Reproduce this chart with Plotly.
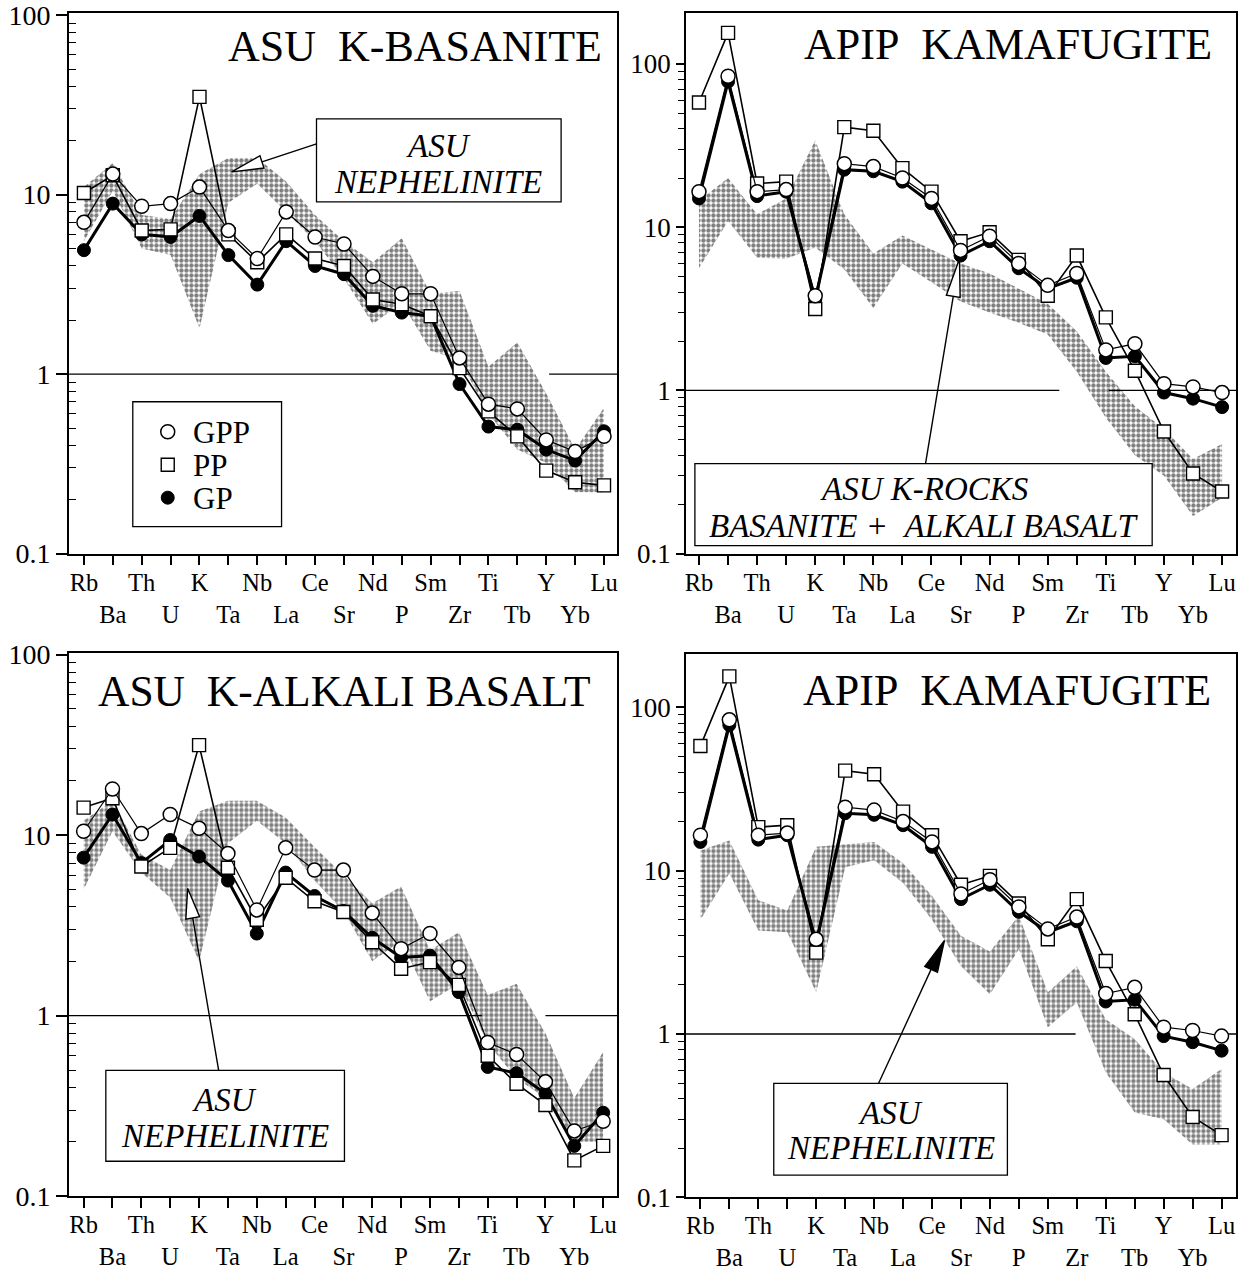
import math
import plotly.graph_objects as go

W, H = 1260, 1280

elements = ["Rb", "Ba", "Th", "U", "K", "Ta", "Nb", "La", "Ce", "Sr",
            "Nd", "P", "Sm", "Zr", "Ti", "Tb", "Y", "Yb", "Lu"]

# ---- ASU K-BASANITE (top left) ----
bas_gpp = [7.0, 13.0, 8.6, 8.9, 11.0, 6.3, 4.4, 8.0, 5.8, 5.3, 3.5, 2.8, 2.8, 1.23, 0.68, 0.64, 0.43, 0.37, 0.45]
bas_pp = [10.2, 12.8, 6.3, 6.4, 35.0, 6.0, 4.2, 6.0, 4.4, 4.0, 2.6, 2.45, 2.1, 1.08, 0.62, 0.45, 0.29, 0.25, 0.24]
bas_gp = [4.9, 8.9, 6.0, 5.8, 7.6, 4.6, 3.15, 5.5, 4.0, 3.6, 2.4, 2.2, 2.1, 0.88, 0.51, 0.49, 0.38, 0.33, 0.48]
bas_neph_hi = [11, 15, 7.7, 7.3, 13, 16, 16, 11.8, 7.7, 5.5, 4.2, 5.7, 2.8, 2.9, 1.1, 1.5, 0.78, 0.38, 0.65]
bas_neph_lo = [5.5, 10.5, 5.0, 4.6, 1.8, 9.0, 11.5, 8.0, 5.5, 3.4, 1.9, 2.5, 1.35, 1.2, 0.6, 0.38, 0.32, 0.22, 0.22]

# ---- ASU K-ALKALI BASALT (bottom left) ----
alk_gpp = [10.5, 18.0, 10.2, 13.0, 10.9, 7.9, 3.85, 8.5, 6.4, 6.4, 3.7, 2.35, 2.85, 1.85, 0.71, 0.61, 0.43, 0.23, 0.26]
alk_pp = [14.2, 16.0, 6.7, 8.5, 31.5, 6.6, 3.4, 5.8, 4.3, 3.75, 2.55, 1.82, 1.98, 1.48, 0.6, 0.42, 0.32, 0.158, 0.19]
alk_gp = [7.5, 13.0, 7.0, 9.4, 7.6, 5.6, 2.85, 6.2, 4.6, 3.8, 2.7, 2.1, 2.15, 1.35, 0.52, 0.48, 0.37, 0.19, 0.29]
alk_neph_hi = [12, 15.5, 7.8, 6.4, 13.5, 15.5, 15.5, 12.5, 8.6, 6.0, 4.2, 5.2, 2.3, 2.9, 1.3, 1.5, 0.8, 0.35, 0.63]
alk_neph_lo = [5.0, 10.5, 6.2, 4.5, 2.0, 9.0, 12.0, 9.0, 5.6, 3.8, 2.0, 2.6, 1.2, 1.5, 0.7, 0.45, 0.35, 0.2, 0.2]

# ---- APIP KAMAFUGITE (right panels) ----
kam_gpp = [16.5, 84, 16.5, 17.0, 3.8, 24.5, 23.5, 20, 15, 7.2, 8.8, 6.0, 4.4, 5.2, 1.77, 1.93, 1.1, 1.05, 0.97]
kam_pp = [58, 155, 18.5, 19, 3.15, 41, 39, 23, 16.5, 8.2, 9.3, 6.3, 3.8, 6.7, 2.8, 1.32, 0.56, 0.31, 0.24]
kam_gp = [15.0, 78, 15.5, 16.5, 3.6, 22.5, 22, 19, 14, 6.7, 8.2, 5.6, 4.2, 4.9, 1.58, 1.62, 0.97, 0.89, 0.79]
krock_hi = [14.5, 20, 12, 15, 34, 12, 6.9, 8.9, 7.3, 6.0, 5.2, 4.2, 3.4, 2.3, 1.3, 0.8, 0.58, 0.38, 0.47]
krock_lo = [5.6, 10.9, 6.5, 6.4, 7.5, 5.5, 3.2, 6.0, 4.6, 3.5, 3.0, 2.6, 2.2, 1.3, 0.68, 0.4, 0.3, 0.17, 0.22]
kneph_hi = [13.3, 15.3, 6.6, 5.7, 14, 14.5, 15, 11.1, 7.0, 4.0, 3.2, 5.3, 1.8, 2.6, 1.23, 0.93, 0.58, 0.46, 0.61]
kneph_lo = [5.0, 9.6, 4.3, 4.2, 1.8, 10.5, 11.6, 8.4, 5.0, 2.6, 1.75, 3.3, 1.1, 1.56, 0.58, 0.33, 0.3, 0.21, 0.21]

legend_labels = ["GPP", "PP", "GP"]

ytickvals = [0.1, 1, 10, 100]
yticktext = ["0.1", "1", "10", "100"]
minor_vals = [m * d for d in (0.1, 1, 10) for m in range(2, 10)]

idx = list(range(len(elements)))
ticktext = [e if i % 2 == 0 else "<br>" + e for i, e in enumerate(elements)]

FONT = "Liberation Serif"

STYLE = {
    "GP": dict(line=dict(color="black", width=3),
               marker=dict(symbol="circle", size=13, color="black", line=dict(color="black", width=1))),
    "PP": dict(line=dict(color="black", width=1.6),
               marker=dict(symbol="square", size=13, color="white", line=dict(color="black", width=1.4))),
    "GPP": dict(line=dict(color="black", width=1.2),
                marker=dict(symbol="circle", size=14, color="white", line=dict(color="black", width=1.5))),
}

# vertical placement calibration (page rows as they appear in the captured picture)
Y_SCALE, Y_OFF = 0.978, 12.0


def fx(x):
    return x / W


def fy(y):
    return 1 - ((y - Y_OFF) / Y_SCALE) / H


panels = [
    dict(n="", dom=(68, 617, 12, 553), xr=(-0.52, 18.45), yr=(-1, 2.011), left=True,
         gpp=bas_gpp, pp=bas_pp, gp=bas_gp, hi=bas_neph_hi, lo=bas_neph_lo,
         ref=[(-0.52, 13.34), (16.1, 18.45)]),
    dict(n="2", dom=(686, 1237, 12, 553), xr=(-0.45, 18.48), yr=(-1, 2.312), left=False,
         gpp=kam_gpp, pp=kam_pp, gp=kam_gp, hi=krock_hi, lo=krock_lo,
         ref=[(-0.45, 12.4), (14.1, 18.48)]),
    dict(n="3", dom=(68, 617, 652, 1196), xr=(-0.51, 18.48), yr=(-1, 2.011), left=True,
         gpp=alk_gpp, pp=alk_pp, gp=alk_gp, hi=alk_neph_hi, lo=alk_neph_lo,
         ref=[(-0.51, 13.8), (16.0, 18.48)]),
    dict(n="4", dom=(686, 1237, 653, 1197), xr=(-0.5, 18.5), yr=(-1, 2.33), left=False,
         gpp=kam_gpp, pp=kam_pp, gp=kam_gp, hi=kneph_hi, lo=kneph_lo,
         ref=[(-0.5, 12.96), (18.05, 18.5)]),
]

fig = go.Figure()
layout = dict(
    width=W, height=H, margin=dict(l=0, r=0, t=0, b=0, pad=0),
    paper_bgcolor="white", plot_bgcolor="white",
    font=dict(family=FONT, color="black"),
    showlegend=False,
)

for p in panels:
    xa, ya = "x" + p["n"], "y" + p["n"]
    x0, x1, y0, y1 = p["dom"]
    rx, ry = [], []
    for a, b in p["ref"]:
        rx += [a, b, None]
        ry += [1, 1, None]
    fig.add_trace(go.Scatter(x=rx, y=ry, mode="lines", line=dict(color="black", width=1.4),
                             xaxis=xa, yaxis=ya, hoverinfo="skip"))
    fig.add_trace(go.Scatter(
        x=idx + idx[::-1], y=p["hi"] + p["lo"][::-1], mode="lines", fill="toself",
        line=dict(width=0, color="rgba(0,0,0,0)"),
        fillcolor="rgba(0,0,0,0)",
        fillpattern=dict(shape=".", fgcolor="black", bgcolor="rgba(255,255,255,0)",
                         size=5, solidity=0.6),
        xaxis=xa, yaxis=ya, hoverinfo="skip"))
    for key in ("GP", "PP", "GPP"):
        fig.add_trace(go.Scatter(x=idx, y=p[key.lower()], mode="lines+markers", name=key,
                                 xaxis=xa, yaxis=ya, **STYLE[key]))

    layout["xaxis" + p["n"]] = dict(
        domain=[fx(x0), fx(x1)], range=list(p["xr"]), anchor=ya,
        tickmode="array", tickvals=idx, ticktext=ticktext, tickangle=0,
        ticks="outside", ticklen=10, tickwidth=1.5, tickcolor="black",
        ticklabelstandoff=-4, ticklabeloverflow="allow",
        showline=True, linecolor="black", linewidth=1.6, mirror=True,
        showgrid=False, zeroline=False,
        tickfont=dict(family=FONT, size=24.5, color="black"),
    )
    if p["left"]:
        minor = dict(tickmode="array", tickvals=minor_vals, ticks="inside", ticklen=7,
                     tickwidth=1.2, tickcolor="black", showgrid=False)
        tl, tfs = 11, 28
    else:
        minor = dict(tickmode="array", tickvals=minor_vals, ticks="outside", ticklen=6,
                     tickwidth=1.2, tickcolor="black", showgrid=False)
        tl, tfs = 8, 27
    layout["yaxis" + p["n"]] = dict(
        domain=[fy(y1), fy(y0)], type="log", range=list(p["yr"]), anchor=xa,
        tickmode="array", tickvals=ytickvals, ticktext=yticktext,
        ticks="outside", ticklen=tl, tickwidth=1.5, tickcolor="black",
        ticklabeloverflow="allow",
        minor=minor,
        showline=True, linecolor="black", linewidth=1.6, mirror=True,
        showgrid=False, zeroline=False,
        tickfont=dict(family=FONT, size=tfs, color="black"),
    )

shapes = []
annotations = []


def box(xa, ya, xb, yb, fill="white"):
    shapes.append(dict(type="rect", xref="paper", yref="paper",
                       x0=fx(xa), x1=fx(xb), y0=fy(yb), y1=fy(ya),
                       line=dict(color="black", width=1.3), fillcolor=fill, layer="above"))


def text(x, y, s, size, anchor="center", italic=False):
    if italic:
        s = "<i>" + s + "</i>"
    annotations.append(dict(x=fx(x), y=fy(y), xref="paper", yref="paper", text=s,
                            showarrow=False, xanchor=anchor, yanchor="middle",
                            font=dict(family=FONT, size=size, color="black")))


def arrow(start, tip, length, hw, filled):
    sx, sy = start
    tx, ty = tip
    dx, dy = sx - tx, sy - ty
    d = math.hypot(dx, dy)
    ux, uy = dx / d, dy / d
    bx, by = tx + ux * length, ty + uy * length
    px_, py_ = -uy, ux
    c1 = (bx + px_ * hw, by + py_ * hw)
    c2 = (bx - px_ * hw, by - py_ * hw)
    shapes.append(dict(type="line", xref="paper", yref="paper",
                       x0=fx(sx), y0=fy(sy), x1=fx(bx), y1=fy(by),
                       line=dict(color="black", width=1.4)))
    path = "M {:.5f},{:.5f} L {:.5f},{:.5f} L {:.5f},{:.5f} Z".format(
        fx(tx), fy(ty), fx(c1[0]), fy(c1[1]), fx(c2[0]), fy(c2[1]))
    shapes.append(dict(type="path", xref="paper", yref="paper", path=path,
                       line=dict(color="black", width=1.4),
                       fillcolor="black" if filled else "white"))


# legend (top-left panel): box, symbols on an overlay axis, labels
LB = (132, 401, 281, 526)
box(*LB, fill="rgba(0,0,0,0)")
layout["xaxis5"] = dict(domain=[fx(LB[0]), fx(LB[2])], range=[0, 1], visible=False,
                        anchor="y5", fixedrange=True)
layout["yaxis5"] = dict(domain=[fy(LB[3]), fy(LB[1])], range=[0, 1], visible=False,
                        anchor="x5", fixedrange=True)
row_px = [431, 464, 497]
for lab, ypx in zip(legend_labels, row_px):
    st = STYLE[lab]
    fig.add_trace(go.Scatter(x=[(167 - LB[0]) / (LB[2] - LB[0])], y=[(LB[3] - ypx) / (LB[3] - LB[1])],
                             mode="markers", marker=st["marker"], xaxis="x5", yaxis="y5",
                             hoverinfo="skip", cliponaxis=False))
    text(190, ypx + 1, lab, 31, anchor="left")

# Titles
text(604, 46, "ASU\u00a0\u00a0K-BASANITE", 44, anchor="right")
text(1215, 44, "APIP\u00a0\u00a0KAMAFUGITE", 44, anchor="right")
text(95, 690, "ASU\u00a0\u00a0K-ALKALI BASALT", 43.5, anchor="left")
text(1214, 690, "APIP\u00a0\u00a0KAMAFUGITE", 44, anchor="right")

# field label boxes
box(316, 118, 561, 201)
text(438, 145, "ASU", 33, italic=True)
text(438, 181, "NEPHELINITE", 33, italic=True)
arrow((316, 143), (231, 171), 32, 6.5, False)

box(695, 463, 1153, 545)
text(924, 488, "ASU K-ROCKS", 33, italic=True)
text(924, 525, "BASANITE +\u00a0\u00a0ALKALI BASALT", 33, italic=True)
arrow((926, 463), (960, 258), 38, 7, False)

box(105, 1070, 344, 1161)
text(224, 1100, "ASU", 33, italic=True)
text(224, 1136, "NEPHELINITE", 33, italic=True)
arrow((218, 1070), (187, 888), 30, 7, False)

box(774, 1083, 1008, 1175)
text(891, 1113, "ASU", 33, italic=True)
text(891, 1148, "NEPHELINITE", 33, italic=True)
arrow((879, 1083), (945, 940), 32, 7, True)

layout["shapes"] = shapes
layout["annotations"] = annotations
fig.update_layout(**layout)

fig.write_html("out.html")
